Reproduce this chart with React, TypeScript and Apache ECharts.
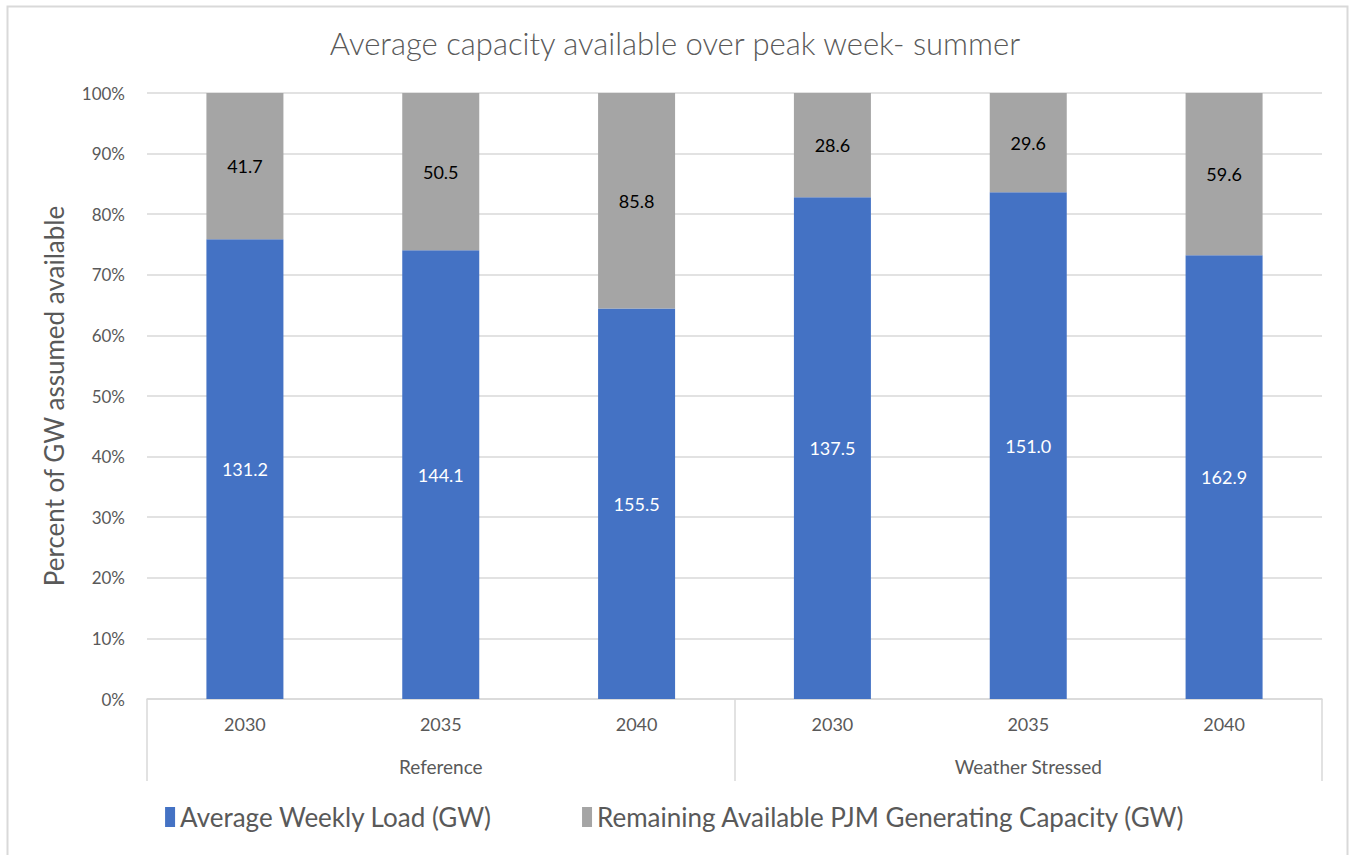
import React, { useEffect, useRef } from "react";
import * as echarts from "echarts";

const years = ["2030", "2035", "2040", "2030", "2035", "2040"];
const groups = ["Reference", "Weather Stressed"];
const loadGW = [131.2, 144.1, 155.5, 137.5, 151.0, 162.9];
const remainingGW = [41.7, 50.5, 85.8, 28.6, 29.6, 59.6];
const yTicks = [0, 10, 20, 30, 40, 50, 60, 70, 80, 90, 100];

const FONT = "Lato, 'Open Sans', sans-serif";

export default function App() {
  const ref = useRef<HTMLDivElement>(null);
  useEffect(() => {
    document.body.style.margin = "0";
    const chart = echarts.init(ref.current!, null, { renderer: "svg" });
    const totals = loadGW.map((v, i) => v + remainingGW[i]);
    const loadPct = loadGW.map((v, i) => (v / totals[i]) * 100);
    const remPct = remainingGW.map((v, i) => (v / totals[i]) * 100);
    chart.setOption({
      animation: false,
      backgroundColor: "#fff",
      textStyle: { fontFamily: FONT },
      title: {
        text: "Average capacity available over peak week- summer",
        left: "center",
        top: 22,
        textStyle: { fontFamily: FONT, fontSize: 31, fontWeight: 300, color: "#595959" },
      },
      graphic: [
        {
          type: "rect",
          shape: { x: 7.5, y: 6.5, width: 1340, height: 880 },
          style: { fill: "none", stroke: "#d9d9d9", lineWidth: 2 },
          silent: true,
        },
      ],
      legend: {
        bottom: 20,
        left: "center",
        itemWidth: 10,
        itemHeight: 20,
        itemGap: 90,
        icon: "rect",
        textStyle: { fontFamily: FONT, fontSize: 26, color: "#595959", padding: [0, 0, 0, 0] },
        data: ["Average Weekly Load (GW)", "Remaining Available PJM Generating Capacity (GW)"],
      },
      grid: { left: 147, right: 28, top: 93, bottom: 156, containLabel: false },
      xAxis: [
        {
          type: "category",
          data: years,
          position: "bottom",
          axisLine: { show: true, lineStyle: { color: "#d9d9d9", width: 1.5 } },
          axisTick: { show: false },
          axisLabel: { margin: 16, fontSize: 18, color: "#595959", fontFamily: FONT },
        },
        {
          type: "category",
          data: groups,
          position: "bottom",
          axisLine: { show: false },
          axisTick: { show: true, length: 82, lineStyle: { color: "#d9d9d9", width: 1.5 } },
          axisLabel: { margin: 58, fontSize: 19, color: "#595959", fontFamily: FONT },
          splitLine: { show: false },
        },
      ],
      yAxis: {
        type: "value",
        min: 0,
        max: 100,
        interval: 10,
        name: "Percent of GW assumed available",
        nameLocation: "middle",
        nameGap: 80,
        nameTextStyle: { fontFamily: FONT, fontSize: 26, color: "#595959" },
        axisLine: { show: false },
        axisTick: { show: false },
        axisLabel: {
          margin: 22,
          fontSize: 17,
          color: "#595959",
          fontFamily: FONT,
          formatter: (v: number) => (yTicks.includes(v) ? v + "%" : ""),
        },
        splitLine: { lineStyle: { color: "#d9d9d9", width: 1.5 } },
      },
      series: [
        {
          name: "Average Weekly Load (GW)",
          type: "bar",
          stack: "total",
          barWidth: 77,
          itemStyle: { color: "#4472c4" },
          data: loadPct,
          label: {
            show: true,
            position: "inside",
            color: "#fff",
            fontSize: 18,
            fontFamily: FONT,
            formatter: (p: any) => loadGW[p.dataIndex].toFixed(1),
          },
        },
        {
          name: "Remaining Available PJM Generating Capacity (GW)",
          type: "bar",
          stack: "total",
          barWidth: 77,
          itemStyle: { color: "#a5a5a5" },
          data: remPct,
          label: {
            show: true,
            position: "inside",
            color: "#000",
            fontSize: 18,
            fontFamily: FONT,
            formatter: (p: any) => remainingGW[p.dataIndex].toFixed(1),
          },
        },
      ],
    });
    return () => chart.dispose();
  }, []);
  return <div ref={ref} style={{ width: 1350, height: 855 }} />;
}
